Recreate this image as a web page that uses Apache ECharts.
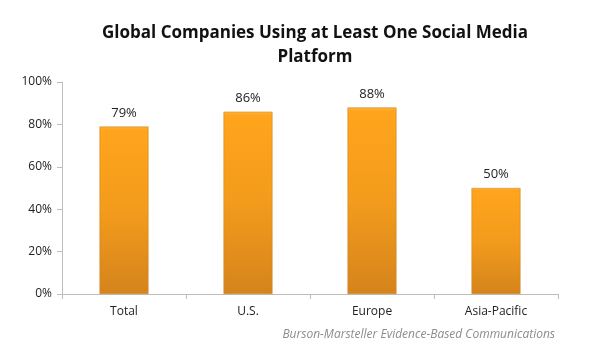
<!DOCTYPE html>
<html>
<head>
<meta charset="utf-8">
<script src="https://cdn.jsdelivr.net/npm/echarts@6/dist/echarts.min.js"></script>
<style>
  html, body { margin: 0; padding: 0; background: #fff; }
  #chart { width: 600px; height: 353px; }
</style>
</head>
<body>
<div id="chart"></div>
<script>
// data
let regions = ['Total', 'U.S.', 'Europe', 'Asia-Pacific'];
let usingShare = [79, 86, 88, 50];
let yTicks = [0, 20, 40, 60, 80, 100];

let chart = echarts.init(document.getElementById('chart'));
let font = '"Open Sans", "Liberation Sans", sans-serif';

let option = {
    backgroundColor: '#ffffff',
    title: {
        text: 'Global Companies Using at Least One Social Media\nPlatform',
        left: 310,
        textAlign: 'center',
        top: 16,
        textStyle: { fontFamily: font, fontSize: 17, fontWeight: 'bold', color: '#111', lineHeight: 24 }
    },
    graphic: [{
        type: 'text',
        right: 45,
        top: 329,
        style: {
            text: 'Burson-Marsteller Evidence-Based Communications',
            font: 'italic 12px ' + font,
            fill: '#8c8c8c'
        }
    }],
    grid: { left: 62, right: 42, top: 82, bottom: 59 },
    xAxis: {
        type: 'category',
        data: regions,
        axisLine: { lineStyle: { color: '#bdbdbd' } },
        axisTick: { show: true, length: 5, lineStyle: { color: '#bdbdbd' } },
        axisLabel: { color: '#222', fontFamily: font, fontSize: 12, margin: 12 }
    },
    yAxis: {
        type: 'value',
        min: yTicks[0],
        max: yTicks[yTicks.length - 1],
        interval: 20,
        axisLine: { show: true, lineStyle: { color: '#bdbdbd' } },
        axisTick: { show: true, length: 5, lineStyle: { color: '#bdbdbd' } },
        splitLine: { show: false },
        axisLabel: { color: '#222', fontFamily: font, fontSize: 12, margin: 10, formatter: '{value}%' }
    },
    series: [{
        type: 'bar',
        data: usingShare,
        barWidth: 49,
        itemStyle: {
            color: new echarts.graphic.LinearGradient(0, 0, 0, 1, [
                { offset: 0, color: '#ffb53a' },
                { offset: 0.02, color: '#ffa41c' },
                { offset: 0.5, color: '#f39b1c' },
                { offset: 1, color: '#d4841c' }
            ]),
            borderColor: '#c98a2a',
            borderWidth: 0.6
        },
        label: {
            show: true,
            position: 'top',
            distance: 7,
            formatter: '{c}%',
            color: '#222',
            fontFamily: font,
            fontSize: 13
        }
    }]
};
chart.setOption(option);
</script>
</body>
</html>
